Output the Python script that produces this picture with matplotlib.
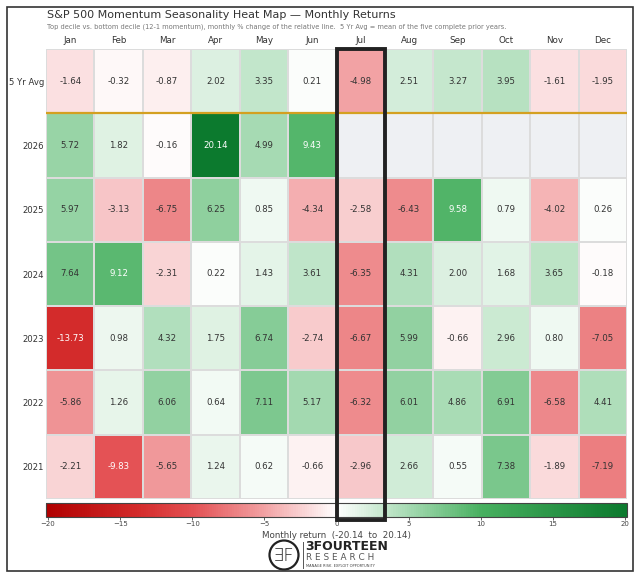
import numpy as np
import matplotlib
matplotlib.use("Agg")
import matplotlib.pyplot as plt
from matplotlib.colors import LinearSegmentedColormap, Normalize
from matplotlib.patches import Rectangle, Circle
import matplotlib.cm as cm

months = ["Jan", "Feb", "Mar", "Apr", "May", "Jun", "Jul", "Aug", "Sep", "Oct", "Nov", "Dec"]
row_labels = ["5 Yr Avg", "2026", "2025", "2024", "2023", "2022", "2021"]
nan = np.nan
avg5 = [-1.64, -0.32, -0.87, 2.02, 3.35, 0.21, -4.98, 2.51, 3.27, 3.95, -1.61, -1.95]
y2026 = [5.72, 1.82, -0.16, 20.14, 4.99, 9.43, nan, nan, nan, nan, nan, nan]
y2025 = [5.97, -3.13, -6.75, 6.25, 0.85, -4.34, -2.58, -6.43, 9.58, 0.79, -4.02, 0.26]
y2024 = [7.64, 9.12, -2.31, 0.22, 1.43, 3.61, -6.35, 4.31, 2.00, 1.68, 3.65, -0.18]
y2023 = [-13.73, 0.98, 4.32, 1.75, 6.74, -2.74, -6.67, 5.99, -0.66, 2.96, 0.80, -7.05]
y2022 = [-5.86, 1.26, 6.06, 0.64, 7.11, 5.17, -6.32, 6.01, 4.86, 6.91, -6.58, 4.41]
y2021 = [-2.21, -9.83, -5.65, 1.24, 0.62, -0.66, -2.96, 2.66, 0.55, 7.38, -1.89, -7.19]
highlight_month = "Jul"
vlim = 20.14

data = np.array([avg5, y2026, y2025, y2024, y2023, y2022, y2021], dtype=float)

W, H = 639, 574
fig = plt.figure(figsize=(W / 100, H / 100), dpi=100)
fig.patch.set_facecolor("white")

def fx(px):
    return px / W

def fy(py):
    return 1 - py / H

cmap = LinearSegmentedColormap.from_list(
    "rg",
    [(0.0, "#b00000"), (0.16, "#d42c2c"), (0.25, "#e34f52"), (0.375, "#f2a1a3"),
     (0.5, "#ffffff"), (0.625, "#a5dab2"), (0.75, "#48b060"), (1.0, "#0c7a2e")])
cmap.set_bad("#eef0f3")
norm = Normalize(vmin=-vlim, vmax=vlim)

left, right, top, bottom = 46, 627, 49, 499
ax = fig.add_axes([fx(left), fy(bottom), fx(right - left), (bottom - top) / H])
masked = np.ma.masked_invalid(data)
ax.pcolormesh(np.arange(13), np.arange(8), masked, cmap=cmap, norm=norm,
              edgecolors="#dcdcdc", linewidth=1.2)
ax.set_xlim(0, 12)
ax.set_ylim(7, 0)
for sp in ax.spines.values():
    sp.set_visible(False)
ax.set_xticks(np.arange(12) + 0.5)
ax.set_xticklabels(months, fontsize=6.3, color="#333333")
ax.xaxis.tick_top()
ax.set_yticks(np.arange(7) + 0.5)
ax.set_yticklabels(row_labels, fontsize=6.1, color="#333333")
ax.tick_params(axis="y", length=0, pad=1.5)
ax.tick_params(axis="x", length=0, pad=3)

for i in range(data.shape[0]):
    for j in range(data.shape[1]):
        v = data[i, j]
        if np.isnan(v):
            continue
        c = "white" if abs(v) > 8.5 else "#333333"
        ax.text(j + 0.5, i + 0.5, f"{v:.2f}", ha="center", va="center",
                fontsize=6.2, color=c)

ax.axhline(1, color="#d4a020", lw=1.6, zorder=5)

# colorbar
cb_top, cb_bot = 503, 517
cax = fig.add_axes([fx(left), fy(cb_bot), fx(right - left), (cb_bot - cb_top) / H])
cb = fig.colorbar(cm.ScalarMappable(norm=norm, cmap=cmap), cax=cax, orientation="horizontal")
cb.set_ticks([-20, -15, -10, -5, 0, 5, 10, 15, 20])
cb.ax.tick_params(labelsize=5, length=2, width=0.6, colors="#444444", pad=1)
cb.outline.set_linewidth(0.8)
cb.outline.set_edgecolor("#444444")
cb.set_label("Monthly return  (-20.14  to  20.14)", fontsize=6.3, color="#444444", labelpad=3)

# highlight box on July column
col = months.index(highlight_month)
cw = (right - left) / 12
bx0 = left + col * cw
fig.add_artist(Rectangle((fx(bx0), fy(520)), fx(cw), (520 - top) / H,
                         transform=fig.transFigure, fill=False, edgecolor="#222222",
                         lw=2.8, zorder=10, clip_on=False))

# titles
fig.text(fx(47), fy(15), "S\u0026P 500 Momentum Seasonality Heat Map \u2014 Monthly Returns",
         fontsize=8.0, color="#333333", ha="left", va="center")
fig.text(fx(47), fy(27),
         "Top decile vs. bottom decile (12-1 momentum), monthly % change of the relative line.  "
         "5 Yr Avg = mean of the five complete prior years.",
         fontsize=4.8, color="#777777", ha="left", va="center")

# frame
fig.add_artist(Rectangle((fx(7), fy(571)), fx(633 - 7), (571 - 7) / H,
                         transform=fig.transFigure, fill=False, edgecolor="#333333",
                         lw=1.2, clip_on=False))

# logo
lax = fig.add_axes([0, 0, 1, 1], facecolor="none")
lax.set_xlim(0, W)
lax.set_ylim(H, 0)
lax.axis("off")
lax.add_patch(Circle((284, 555), 14.5, fill=False, lw=1.6, edgecolor="#222222"))
lax.text(284, 556, "\u018EF", fontsize=13, ha="center", va="center", color="#222222",
         fontweight="light")
lax.plot([303, 303], [542, 568], color="#555555", lw=0.7)
lax.text(305.5, 547, "3FOURTEEN", fontsize=9, fontweight="bold", ha="left", va="center",
         color="#222222")
lax.text(305.5, 558, "R E S E A R C H", fontsize=6.4, ha="left", va="center", color="#555555")
lax.text(305.5, 566, "MANAGE RISK. EXPLOIT OPPORTUNITY", fontsize=2.6, ha="left", va="center",
         color="#444444")

fig.savefig("out.png", dpi=100, facecolor="white")
